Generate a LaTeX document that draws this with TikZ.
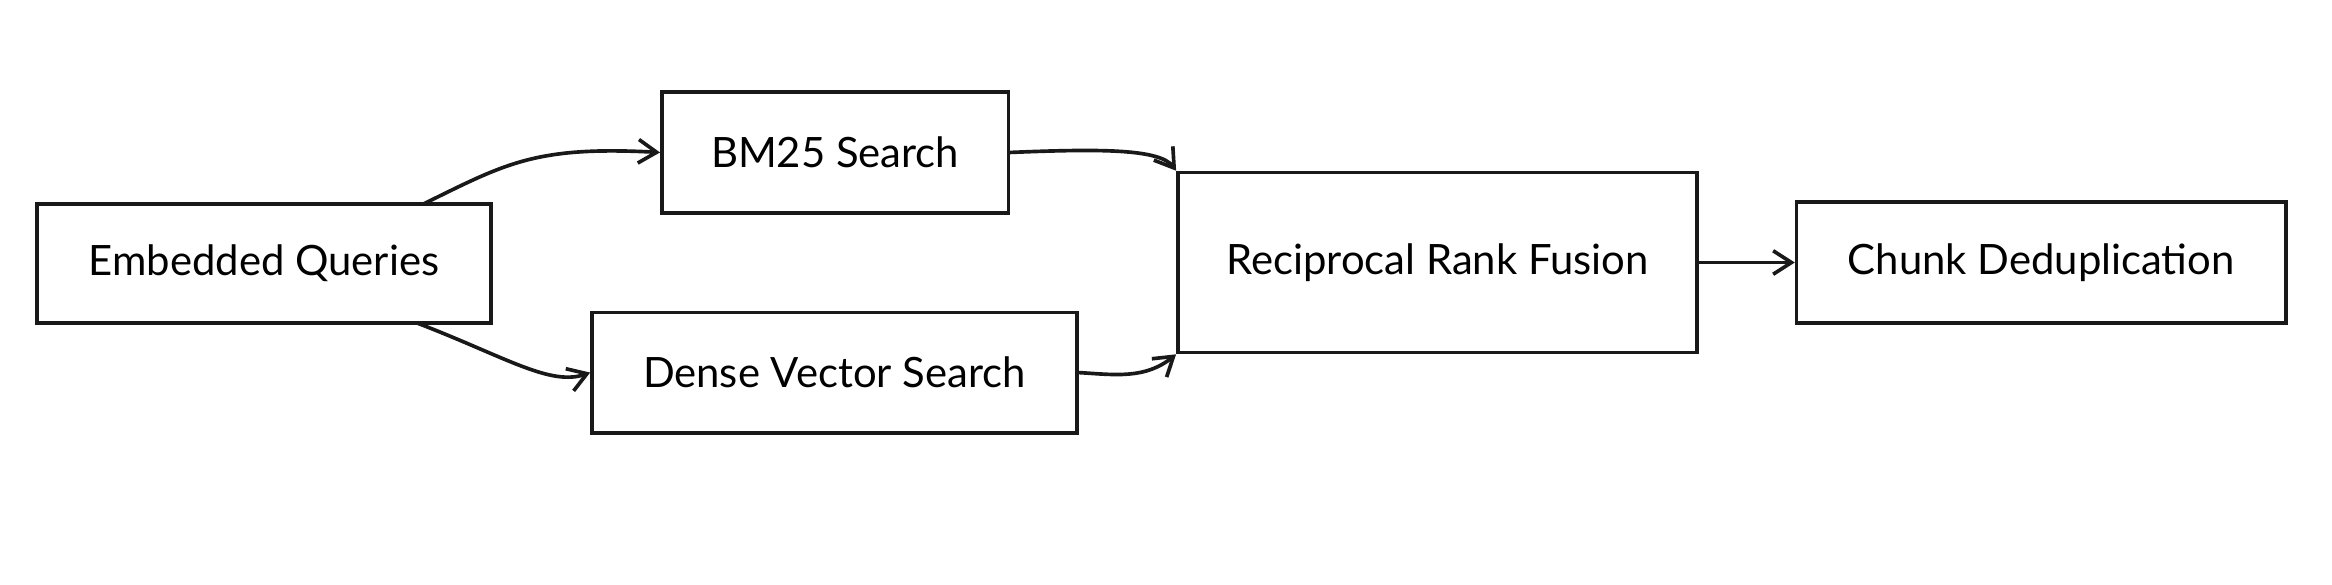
\documentclass[tikz,border=0pt]{standalone}
\usepackage{fontspec}
\setmainfont{Lato}
\usetikzlibrary{arrows.meta}
\begin{document}
\begin{tikzpicture}[x=0.02cm,y=-0.02cm,
  box/.style={draw=black!90,line width=1.4pt,inner sep=0pt,font=\fontsize{16}{18}\selectfont},
  arr/.style={draw=black!90,line width=1.4pt,-{Straight Barb[length=7pt,width=9pt]}}]
\useasboundingbox (0,0) rectangle (1568,393);
\node[box,minimum width=305\pgflinewidth*0+6.1cm,minimum height=1.6cm] (eq) at (177.5,177) {Embedded Queries};
\node[box,minimum width=4.66cm,minimum height=1.62cm] (bm) at (561.5,102.5) {BM25 Search};
\node[box,minimum width=6.52cm,minimum height=1.62cm] (dv) at (561,250.5) {Dense Vector Search};
\node[box,minimum width=6.98cm,minimum height=2.42cm] (rrf) at (966.5,176.5) {Reciprocal Rank Fusion};
\node[box,minimum width=6.58cm,minimum height=1.62cm] (cd) at (1372.5,176.5) {Chunk Deduplication};
\coordinate (a1) at (285,137);
\coordinate (a2) at (280,217);
\draw[arr] (a1) .. controls (340,110) and (360,98) .. (bm.west);
\draw[arr] (a2) .. controls (340,240) and (370,260) .. (dv.west);
\draw[arr] (bm.east) .. controls (740,100) and (780,100) .. (rrf.north west);
\draw[arr] (dv.east) .. controls (750,252) and (770,255) .. (rrf.south west);
\draw[arr] (rrf.east) -- (cd.west);
\end{tikzpicture}
\end{document}
